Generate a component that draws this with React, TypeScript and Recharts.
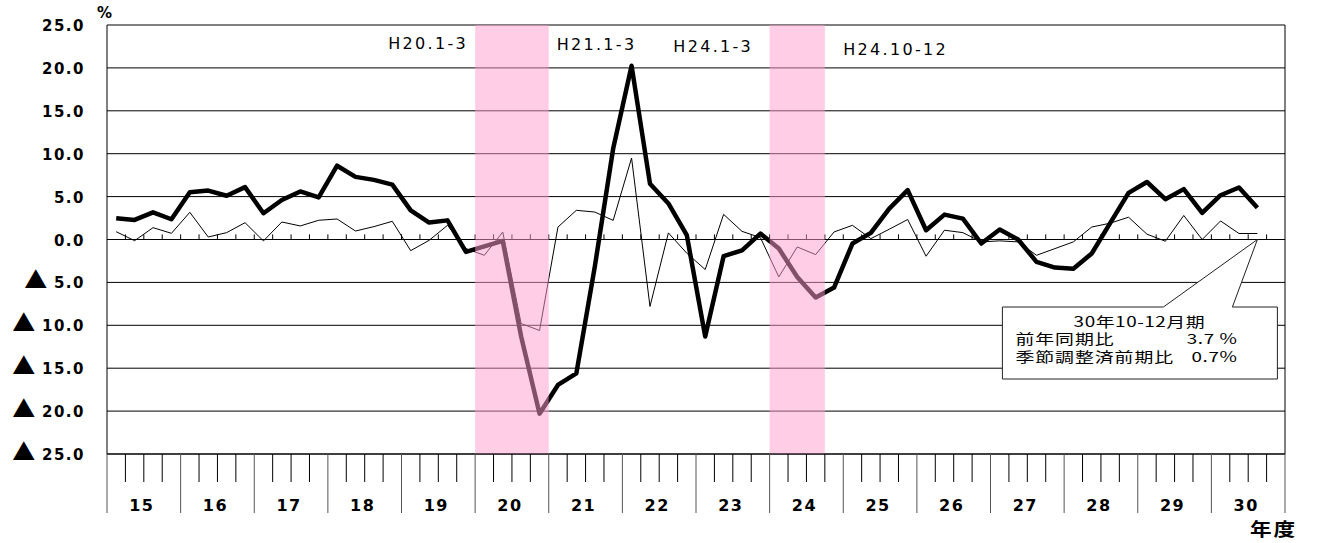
import React from 'react';
import {
  LineChart,
  Line,
  XAxis,
  YAxis,
  CartesianGrid,
  ReferenceArea,
  ReferenceLine,
  ReferenceDot,
} from 'recharts';

// Fiscal years (平成) shown on the category axis, 4 quarters each
const FISCAL_YEARS = [15, 16, 17, 18, 19, 20, 21, 22, 23, 24, 25, 26, 27, 28, 29, 30];

// 前年同期比 (thick line), quarterly, H15 4-6 .. H30 10-12
const YOY = [
  2.47, 2.28, 3.17, 2.36,
  5.5, 5.7, 5.1, 6.1,
  3.06, 4.6, 5.6, 4.9,
  8.6, 7.3, 6.95, 6.4,
  3.4, 1.97, 2.23, -1.45,
  -0.79, -0.17, -11.3, -20.3,
  -16.95, -15.6, -3.2, 10.6,
  20.25, 6.5, 4.2, 0.5,
  -11.3, -1.95, -1.26, 0.69,
  -1.06, -4.36, -6.76, -5.6,
  -0.47, 0.77, 3.6, 5.75,
  1.08, 2.9, 2.43, -0.47,
  1.17, 0.0, -2.6, -3.27,
  -3.4, -1.63, 1.9, 5.44,
  6.7, 4.7, 5.87, 3.1,
  5.16, 6.06, 3.7,
];

// 季節調整済前期比 (thin line)
const QOQ = [
  0.91, -0.14, 1.38, 0.72,
  3.17, 0.29, 0.8, 1.96,
  -0.17, 2.04, 1.58, 2.24,
  2.39, 0.99, 1.5, 2.12,
  -1.3, -0.1, 1.65, -1.06,
  -1.84, 0.87, -9.8, -10.6,
  1.45, 3.4, 3.2, 2.23,
  9.5, -7.8, 0.77, -1.6,
  -3.5, 2.93, 0.95, 0.22,
  -4.36, -0.87, -1.76, 0.88,
  1.65, 0.1, 1.2, 2.33,
  -1.95, 1.08, 0.8, -0.28,
  -0.16, -0.28, -1.84, -1.06,
  -0.28, 1.45, 1.9, 2.6,
  0.62, -0.2, 2.8, 0.0,
  2.16, 0.7, 0.7,
];

const Y_TICKS = [25, 20, 15, 10, 5, 0, -5, -10, -15, -20, -25];
const X_TICKS = Array.from({ length: 65 }, (_, i) => i);
const ZERO_TICKS = Array.from({ length: 63 }, (_, i) => i + 1);

// shaded periods (in quarter index units)
const SHADED = [
  { x1: 20, x2: 24 },
  { x1: 36, x2: 39 },
];

const PERIOD_LABELS = [
  { text: 'H20.1-3', x: 15.28, y: 22.17 },
  { text: 'H21.1-3', x: 24.43, y: 22.1 },
  { text: 'H24.1-3', x: 30.77, y: 21.8 },
  { text: 'H24.10-12', x: 40.0, y: 21.55 },
];

const CALLOUT_TITLE = '30年10-12月期';
const CALLOUT_ROWS = [
  { label: '前年同期比', value: '3.7 %' },
  { label: '季節調整済前期比', value: '0.7%' },
];
const CALLOUT_ANCHOR = { x: 62.5, y: 0 };

const data = YOY.map((v, i) => ({ x: i + 0.5, yoy: v, qoq: QOQ[i] }));

const LATIN = '"DejaVu Sans", Verdana, sans-serif';
const CJK = '"Noto Sans CJK JP", "DejaVu Sans", sans-serif';
const STRETCH = 1.35;

const YTick = (props: any) => {
  const { x, y, payload } = props;
  const v = payload.value as number;
  const num = Math.abs(v).toFixed(1);
  return (
    <text
      x={x}
      y={y + 6}
      textAnchor="end"
      fontFamily={LATIN}
      fontWeight="bold"
      fontSize={15}
      letterSpacing={1.5}
      fill="#000"
    >
      {v < 0 ? (
        <tspan fontFamily={CJK} fontSize={23} letterSpacing={0}>
          ▲
        </tspan>
      ) : null}
      {v < 0 ? <tspan> {num}</tspan> : <tspan>{num}</tspan>}
    </text>
  );
};

const XTick = (props: any) => {
  const { x, y, payload } = props;
  const v = payload.value as number;
  const isYear = v % 4 === 0;
  const yearIdx = (v - 2) / 4;
  return (
    <g>
      <line
        x1={x}
        x2={x}
        y1={y}
        y2={y + (isYear ? 59 : 28)}
        stroke={isYear ? '#555' : '#000'}
        strokeWidth={1}
      />
      {v % 4 === 2 && yearIdx < FISCAL_YEARS.length ? (
        <text
          x={x - 2}
          y={y + 57}
          textAnchor="middle"
          fontFamily={LATIN}
          fontWeight="bold"
          fontSize={16}
          letterSpacing={1.5}
          fill="#000"
        >
          {FISCAL_YEARS[yearIdx]}
        </text>
      ) : null}
    </g>
  );
};

const Stretched = ({ x, y, anchor, size, spacing, children }: any) => (
  <text
    transform={`translate(${x},${y}) scale(${STRETCH},1)`}
    x={0}
    y={0}
    textAnchor={anchor}
    fontFamily={CJK}
    fontSize={size}
    letterSpacing={spacing}
    fill="#000"
  >
    {children}
  </text>
);

const Callout = (props: any) => {
  const { cx, cy } = props;
  if (cx == null || cy == null) return null;
  const left = cx - 255;
  const right = cx + 20;
  const top = cy + 67.5;
  const bottom = cy + 139.5;
  const d = `M${left},${top} L${cx - 94},${top} L${cx},${cy} L${cx - 25},${top} L${right},${top} L${right},${bottom} L${left},${bottom} Z`;
  return (
    <g>
      <path d={d} fill="#fff" stroke="#222" strokeWidth={1} />
      <Stretched x={cx - 118} y={cy + 87} anchor="middle" size={14} spacing={0.4}>
        {CALLOUT_TITLE}
      </Stretched>
      {CALLOUT_ROWS.map((r, i) => (
        <g key={r.label}>
          <Stretched x={cx - 242} y={cy + 104 + i * 18.5} anchor="start" size={14} spacing={0.7}>
            {r.label}
          </Stretched>
          <Stretched x={cx - 20} y={cy + 104 + i * 18.5} anchor="end" size={14} spacing={0.4}>
            {r.value}
          </Stretched>
        </g>
      ))}
    </g>
  );
};

export default function App() {
  return (
    <div style={{ position: 'absolute', left: 0, top: 0, background: '#fff' }}>
      <LineChart
        width={1319}
        height={543}
        data={data}
        margin={{ top: 25, right: 34, bottom: 0, left: 0 }}
        style={{ fontFamily: LATIN }}
      >
        <CartesianGrid vertical={false} stroke="#000" strokeWidth={1} strokeOpacity={1} />
        <XAxis
          dataKey="x"
          type="number"
          domain={[0, 64]}
          ticks={X_TICKS}
          interval={0}
          height={89}
          tickSize={0}
          tickMargin={0}
          tickLine={false}
          axisLine={{ stroke: '#000', strokeWidth: 1 }}
          tick={<XTick />}
          allowDataOverflow
          label={(p: any) => {
            const vb = p.viewBox || {};
            return (
              <text
                transform={`translate(${(vb.x ?? 107) + (vb.width ?? 1178) - 35},${(vb.y ?? 454) + 82}) scale(1.2,1)`}
                x={0}
                y={0}
                fontFamily={CJK}
                fontWeight="bold"
                fontSize={18}
                letterSpacing={1.5}
                fill="#000"
              >
                年度
              </text>
            );
          }}
        />
        <YAxis
          type="number"
          domain={[-25, 25]}
          ticks={Y_TICKS}
          interval={0}
          width={107}
          tickSize={0}
          tickMargin={22}
          tickLine={false}
          axisLine={{ stroke: '#000', strokeWidth: 1 }}
          tick={<YTick />}
          allowDataOverflow
          label={(p: any) => {
            const vb = p.viewBox || {};
            return (
              <text
                x={(vb.x ?? 0) + (vb.width ?? 107) - 10}
                y={(vb.y ?? 25) - 7}
                fontFamily={LATIN}
                fontWeight="bold"
                fontSize={15}
                fill="#000"
              >
                %
              </text>
            );
          }}
        />
        <ReferenceLine x={64} stroke="#000" strokeWidth={1} />
        {ZERO_TICKS.map((t) => (
          <ReferenceLine
            key={`zt${t}`}
            segment={[
              { x: t, y: 0 },
              { x: t, y: 0.6 },
            ]}
            stroke="#000"
            strokeWidth={1}
          />
        ))}
        <Line
          dataKey="yoy"
          stroke="#000"
          strokeWidth={4.5}
          dot={false}
          activeDot={false}
          isAnimationActive={false}
          strokeLinejoin="round"
        />
        <Line
          dataKey="qoq"
          stroke="#000"
          strokeWidth={1}
          dot={false}
          activeDot={false}
          isAnimationActive={false}
        />
        {SHADED.map((s) => (
          <ReferenceArea
            key={`sh${s.x1}`}
            x1={s.x1}
            x2={s.x2}
            y1={-25}
            y2={25}
            fill="#FF9CCE"
            fillOpacity={0.51}
            stroke="none"
            {...({ zIndex: 450 } as any)}
          />
        ))}
        {PERIOD_LABELS.map((l) => (
          <ReferenceDot
            key={l.text}
            x={l.x}
            y={l.y}
            r={0}
            shape={(p: any) => (
              <text
                x={p.cx}
                y={p.cy}
                fontFamily={LATIN}
                fontSize={16}
                letterSpacing={2.3}
                fill="#000"
              >
                {l.text}
              </text>
            )}
          />
        ))}
        <ReferenceDot
          x={CALLOUT_ANCHOR.x}
          y={CALLOUT_ANCHOR.y}
          r={0}
          shape={(p: any) => <Callout {...p} />}
          {...({ zIndex: 2000 } as any)}
        />
      </LineChart>
    </div>
  );
}
